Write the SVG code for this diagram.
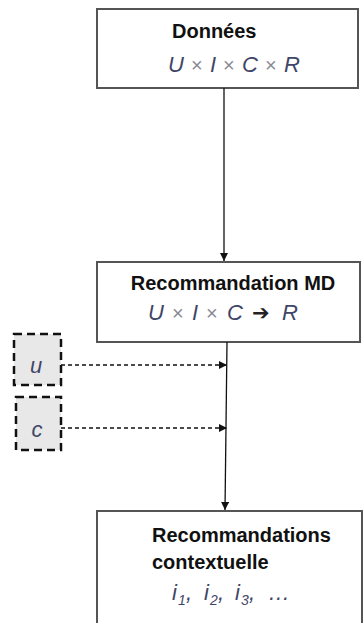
<svg xmlns="http://www.w3.org/2000/svg" width="364" height="623" viewBox="0 0 364 623">
<defs>
<style>
.box{fill:#fff;stroke:#555;stroke-width:2}
.t{font-family:"Liberation Sans",Arial,sans-serif;font-weight:bold;font-size:20px;fill:#111}
.m{font-family:"Liberation Sans",Arial,sans-serif;font-style:italic;font-size:22px;fill:#3f4668}
.x{font-style:normal;font-size:20px;fill:#8a8a95}
.s{font-size:14px}
.dbox{fill:#e8e8e8;stroke:#111;stroke-width:2.5;stroke-dasharray:8,5}
.conn{stroke:#111;stroke-width:1.3;fill:none}
.dash{stroke:#111;stroke-width:1.3;fill:none;stroke-dasharray:4,3}
</style>
<marker id="ah" viewBox="0 0 10 10" refX="10" refY="5" markerWidth="8" markerHeight="8" markerUnits="userSpaceOnUse" orient="auto">
<path d="M0,0 L10,5 L0,10 z" fill="#111"/>
</marker>
</defs>
<g id="donnees">
<rect class="box" x="97" y="9" width="261" height="79"/>
<text class="t" x="172" y="38">Données</text>
<text class="m" y="72"><tspan x="168">U</tspan><tspan class="x" x="191">×</tspan><tspan x="210">I</tspan><tspan class="x" x="223">×</tspan><tspan x="242">C</tspan><tspan class="x" x="265">×</tspan><tspan x="284">R</tspan></text>
</g>
<g id="recoMD">
<rect class="box" x="97" y="262" width="263" height="80"/>
<text class="t" x="233" y="290" text-anchor="middle">Recommandation MD</text>
<text class="m" y="320"><tspan x="148">U</tspan><tspan class="x" x="172">×</tspan><tspan x="192">I</tspan><tspan class="x" x="206">×</tspan><tspan x="227">C</tspan><tspan x="252" font-family="DejaVu Sans,sans-serif" font-style="normal" font-size="21" fill="#222">➔</tspan><tspan x="282">R</tspan></text>
</g>
<g id="u">
<rect class="dbox" x="14" y="334" width="47" height="51"/>
<text class="m" x="36" y="373" text-anchor="middle" fill="#2a2a35" font-size="24">u</text>
</g>
<g id="c">
<rect class="dbox" x="16" y="397" width="45" height="53"/>
<text class="m" x="37" y="437" text-anchor="middle" fill="#2a2a35" font-size="24">c</text>
</g>
<g id="recoCtx">
<rect class="box" x="97" y="511" width="265" height="130"/>
<text class="t" x="152" y="542">Recommandations</text>
<text class="t" x="152" y="569">contextuelle</text>
<text class="m" y="600"><tspan x="172">i</tspan><tspan class="s" x="178" dy="5">1</tspan><tspan x="186" dy="-5">,</tspan><tspan x="204">i</tspan><tspan class="s" x="210" dy="5">2</tspan><tspan x="218" dy="-5">,</tspan><tspan x="235">i</tspan><tspan class="s" x="241" dy="5">3</tspan><tspan x="249" dy="-5">,</tspan><tspan x="268">…</tspan></text>
</g>
<g id="connectors">
<line class="conn" x1="224" y1="88" x2="224" y2="261" marker-end="url(#ah)"/>
<line class="conn" x1="227" y1="342" x2="225" y2="510" marker-end="url(#ah)"/>
<line class="dash" x1="61" y1="365" x2="227" y2="365" marker-end="url(#ah)"/>
<line class="dash" x1="61" y1="428" x2="227" y2="428" marker-end="url(#ah)"/>
</g>
</svg>
